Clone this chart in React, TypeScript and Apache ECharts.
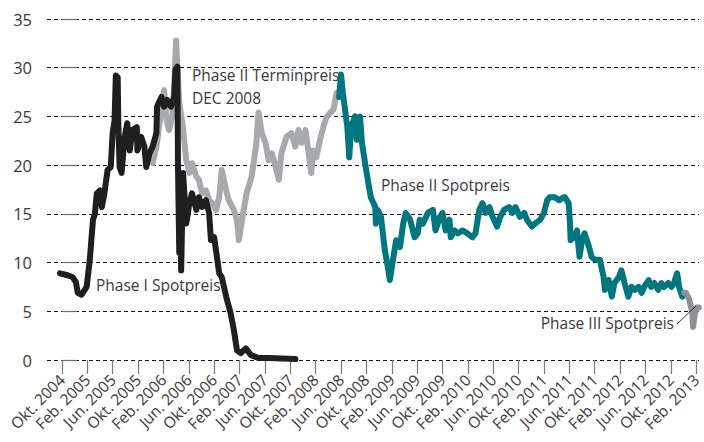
import React, { useEffect, useRef } from "react";
import * as echarts from "echarts";

// x = months after Okt. 2004, y = price (EUR/t)
const xTickLabels = [
  "Okt. 2004", "Feb. 2005", "Jun. 2005", "Okt. 2005", "Feb. 2006", "Jun. 2006",
  "Okt. 2006", "Feb. 2007", "Jun. 2007", "Okt. 2007", "Feb. 2008", "Jun. 2008",
  "Okt. 2008", "Feb. 2009", "Jun. 2009", "Okt. 2009", "Feb. 2010", "Jun. 2010",
  "Okt. 2010", "Feb. 2011", "Jun. 2011", "Okt. 2011", "Feb. 2012", "Jun. 2012",
  "Okt. 2012", "Feb. 2013",
];
const xTickValues = xTickLabels.map((_, i) => i * 4);

const phase1Spot: [number, number][] = [
  [-0.3, 8.9], [0.9, 8.7], [1.7, 8.5], [2.2, 8.0], [2.5, 6.9], [3.1, 6.7], [3.9, 7.5],
  [4.4, 10.3], [4.9, 14.4], [5.2, 15.0], [5.5, 17.1], [6.0, 17.4], [6.3, 15.7], [6.7, 17.1],
  [7.2, 19.5], [7.7, 19.8], [8.0, 23.3], [8.3, 24.6], [8.5, 29.2], [8.8, 29.0], [8.9, 24.0],
  [9.1, 19.8], [9.4, 19.2], [9.9, 22.9], [10.3, 24.3], [10.7, 21.5], [11.1, 23.6],
  [11.8, 23.9], [11.9, 21.5], [12.5, 22.9], [13.0, 21.9], [13.3, 19.8], [13.8, 21.2],
  [14.3, 21.9], [14.9, 23.3], [15.0, 26.0], [15.7, 27.0], [16.1, 26.0], [16.6, 26.7],
  [17.2, 26.0], [17.7, 27.0], [17.9, 29.8], [18.2, 30.1], [18.3, 20.0], [18.5, 11.0],
  [18.6, 18.0], [18.8, 9.2], [19.1, 19.2], [19.6, 14.0], [20.1, 16.1], [20.5, 17.1],
  [21.2, 15.4], [21.6, 16.7], [22.1, 15.7], [22.7, 16.4], [23.2, 15.1], [23.5, 12.3],
  [24.0, 12.6], [24.8, 8.9], [25.2, 8.5], [25.9, 6.5], [26.6, 4.8], [27.1, 3.1],
  [27.6, 1.0], [28.2, 0.7], [29.0, 1.2], [29.8, 0.5], [31.0, 0.2], [32.6, 0.2],
  [34.6, 0.15], [36.8, 0.1],
];

const phase2Termin: [number, number][] = [
  [14.3, 20.2], [14.9, 21.9], [15.7, 25.7], [16.1, 27.7], [16.5, 24.6], [16.9, 23.6],
  [17.4, 25.0], [17.7, 28.0], [18.0, 32.8], [18.5, 26.4], [19.0, 24.3], [19.6, 20.5],
  [20.1, 19.2], [20.5, 20.2], [21.2, 18.8], [21.6, 18.5], [22.1, 17.1], [22.7, 17.4],
  [23.2, 16.4], [23.7, 16.1], [24.3, 15.4], [24.8, 16.7], [25.2, 19.5], [25.9, 17.4],
  [26.3, 16.4], [27.1, 15.4], [27.6, 14.4], [27.9, 12.3], [28.4, 14.4], [29.1, 17.1],
  [29.9, 18.8], [30.6, 21.9], [31.0, 25.4], [31.5, 23.3], [32.1, 22.3], [32.6, 20.5],
  [33.1, 21.2], [33.7, 19.8], [34.2, 18.5], [34.6, 21.2], [35.4, 22.9], [36.2, 23.3],
  [36.8, 21.9], [37.3, 23.6], [37.8, 22.3], [38.4, 23.6], [38.9, 21.2], [39.3, 19.2],
  [39.6, 21.5], [40.1, 20.8], [40.7, 22.6], [41.2, 23.9], [41.7, 24.9], [42.3, 25.4],
  [42.8, 25.7], [43.3, 27.4], [43.6, 27.0],
];

const phase2Spot: [number, number][] = [
  [43.7, 27.0], [44.0, 29.3], [44.3, 27.4], [44.7, 25.4], [45.0, 23.9], [45.3, 20.8],
  [45.6, 23.9], [46.2, 25.0], [46.5, 22.6], [47.0, 25.0], [47.3, 22.3], [47.8, 20.2],
  [48.3, 18.2], [48.7, 16.7], [49.4, 15.7], [49.5, 14.0], [49.8, 15.4], [50.3, 14.7],
  [50.9, 11.3], [51.4, 9.5], [51.7, 8.2], [52.2, 10.3], [52.7, 12.3], [53.3, 11.6],
  [53.8, 14.0], [54.2, 15.1], [54.9, 14.4], [55.6, 12.6], [56.1, 13.0], [56.4, 14.4],
  [56.9, 14.0], [57.7, 15.1], [58.5, 15.4], [58.9, 13.3], [59.6, 14.7], [60.0, 15.1],
  [60.5, 13.3], [61.1, 14.4], [61.3, 12.6], [61.9, 13.3], [62.4, 13.0], [63.2, 13.3],
  [63.9, 13.0], [64.7, 12.6], [65.2, 13.0], [65.8, 15.4], [66.3, 16.1], [66.8, 15.1],
  [67.4, 15.7], [67.9, 14.7], [68.6, 13.7], [69.1, 14.7], [69.7, 15.4], [70.5, 15.7],
  [71.0, 15.1], [71.5, 15.7], [72.2, 14.7], [72.9, 15.1], [73.3, 14.4], [74.1, 13.7],
  [74.6, 14.0], [75.4, 14.4], [76.0, 15.1], [76.5, 16.4], [76.9, 16.7], [77.7, 16.7],
  [78.4, 16.4], [79.1, 16.7], [79.3, 16.7], [79.9, 16.1], [80.1, 14.0], [80.2, 12.3],
  [80.7, 12.6], [81.2, 13.3], [81.6, 10.6], [82.0, 12.3], [82.4, 13.0], [83.1, 11.6],
  [83.5, 10.6], [84.0, 10.3], [84.8, 10.3], [85.4, 8.5], [85.6, 7.2], [86.2, 8.2],
  [86.7, 6.5], [87.1, 7.9], [87.8, 8.5], [88.2, 9.2], [88.7, 7.9], [89.3, 6.5],
  [89.8, 7.5], [90.3, 7.2], [90.9, 7.5], [91.4, 6.9], [91.8, 7.5], [92.5, 8.2],
  [92.9, 7.5], [93.4, 7.9], [94.0, 7.2], [94.5, 7.9], [94.9, 7.5], [95.6, 7.9],
  [96.1, 7.5], [96.5, 7.9], [97.0, 8.9], [97.3, 7.5], [97.8, 6.5], [98.1, 6.9],
];

const phase3Spot: [number, number][] = [
  [98.1, 6.9], [98.4, 6.9], [98.9, 6.2], [99.4, 4.8], [99.5, 3.4], [99.8, 4.8],
  [100.1, 5.4], [100.4, 5.4],
];

const yTicks = { min: 0, max: 35, interval: 5 };

const FONT = "'Open Sans', 'Noto Sans', sans-serif";
const TEXT_COLOR = "#3a3a3a";

export default function App() {
  const ref = useRef<HTMLDivElement>(null);
  useEffect(() => {
    if (!ref.current) return;
    const chart = echarts.init(ref.current, undefined, { renderer: "svg" });
    const lineSeries = (name: string, data: [number, number][], color: string, z: number) => ({
      name,
      type: "line",
      data,
      showSymbol: false,
      symbol: "none",
      z,
      lineStyle: { color, width: 6, join: "round", cap: "round" },
      emphasis: { disabled: true },
    });
    chart.setOption({
      animation: false,
      grid: { left: 47, right: 1, top: 19, bottom: 82, containLabel: false },
      xAxis: {
        type: "value",
        min: -2.35,
        max: 100.45,
        axisLine: { show: false },
        splitLine: { show: false },
        axisTick: {
          show: true,
          length: 14,
          lineStyle: { color: "#7a7a7a", width: 1.2 },
          customValues: xTickValues,
        },
        axisLabel: {
          customValues: xTickValues,
          rotate: 45,
          margin: 17,
          fontFamily: FONT,
          fontSize: 15.5,
          color: TEXT_COLOR,
          formatter: (v: number) => xTickLabels[Math.round(v / 4)] ?? "",
        },
      },
      yAxis: {
        type: "value",
        min: yTicks.min,
        max: yTicks.max,
        interval: yTicks.interval,
        axisLine: { show: false },
        axisTick: { show: true, inside: true, length: 15, lineStyle: { color: "#6e6e6e", width: 1.2 } },
        splitLine: { show: true, lineStyle: { color: "#111", type: [4, 3], width: 1 } },
        axisLabel: { margin: 15, fontFamily: FONT, fontSize: 16.5, color: TEXT_COLOR },
      },
      series: [
        lineSeries("Phase II Terminpreis DEC 2008", phase2Termin, "#a7a9ac", 2),
        lineSeries("Phase I Spotpreis", phase1Spot, "#1f1f1f", 3),
        lineSeries("Phase II Spotpreis", phase2Spot, "#00777e", 4),
        lineSeries("Phase III Spotpreis", phase3Spot, "#909295", 5),
      ],
      graphic: [
        { type: "text", left: 96, top: 277, style: { text: "Phase I Spotpreis", font: `15.5px ${FONT}`, fill: TEXT_COLOR } },
        { type: "text", left: 192, top: 63, style: { text: "Phase II Terminpreis\nDEC 2008", font: `15.5px ${FONT}`, fill: TEXT_COLOR, lineHeight: 23 } },
        { type: "text", left: 381, top: 177, style: { text: "Phase II Spotpreis", font: `15.5px ${FONT}`, fill: TEXT_COLOR } },
        { type: "text", right: 30, top: 315, style: { text: "Phase III Spotpreis", font: `15.5px ${FONT}`, fill: TEXT_COLOR } },
        { type: "line", shape: { x1: 677, y1: 324, x2: 696, y2: 306 }, style: { stroke: "#333", lineWidth: 1 }, z: 10 },
      ],
    });
    return () => chart.dispose();
  }, []);
  return <div ref={ref} style={{ width: 704, height: 442, position: "absolute", left: 0, top: 0 }} />;
}
